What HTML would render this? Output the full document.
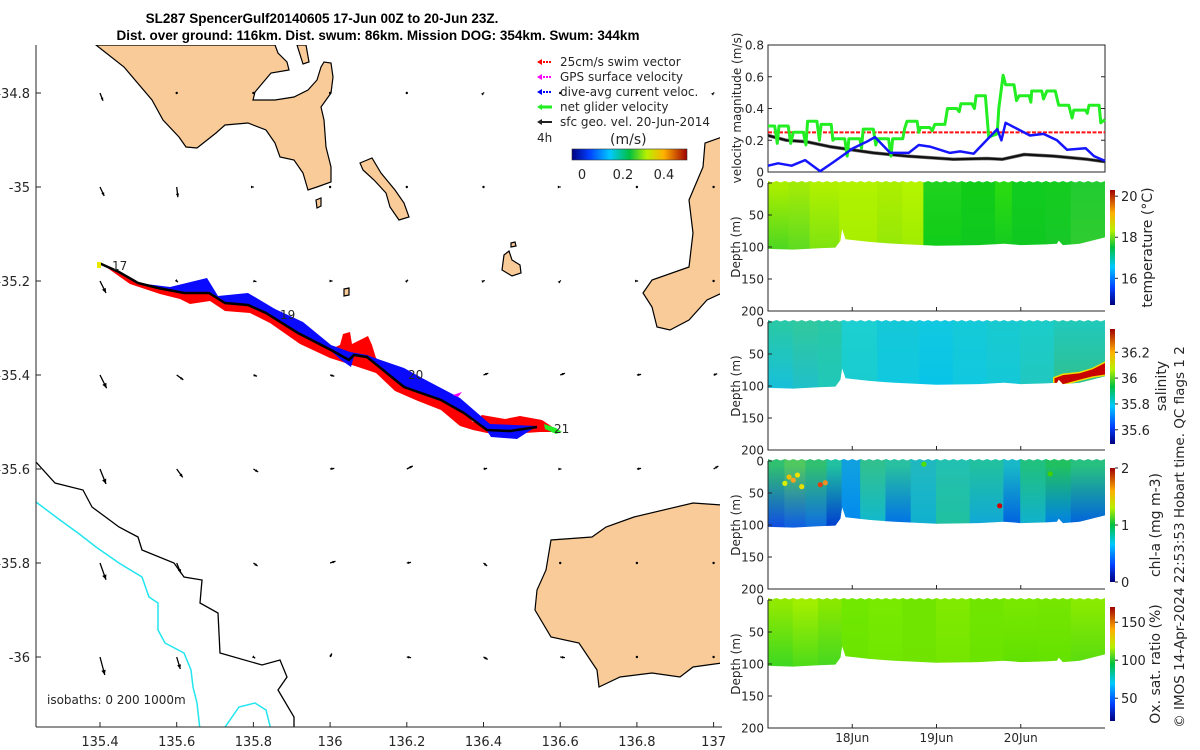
<!DOCTYPE html>
<html><head><meta charset="utf-8"><title>SL287 SpencerGulf glider plot</title>
<style>
html,body{margin:0;padding:0;background:#fff;}
svg{display:block;font-family:"DejaVu Sans","Liberation Sans",sans-serif;}
.t{font-size:12px;fill:#262626;}
</style></head>
<body>
<svg id="fig" width="1200" height="750" viewBox="0 0 1200 750" xmlns="http://www.w3.org/2000/svg">
<defs>
  <linearGradient id="jetV" x1="0" y1="1" x2="0" y2="0">
    <stop offset="0" stop-color="#00007f"/><stop offset="0.15" stop-color="#0040ff"/>
    <stop offset="0.33" stop-color="#00c8ff"/><stop offset="0.5" stop-color="#00c040"/>
    <stop offset="0.65" stop-color="#b8f000"/><stop offset="0.8" stop-color="#ffb000"/>
    <stop offset="1" stop-color="#a00000"/>
  </linearGradient>
  <linearGradient id="jetH" x1="0" y1="0" x2="1" y2="0">
    <stop offset="0" stop-color="#00007f"/><stop offset="0.15" stop-color="#0040ff"/>
    <stop offset="0.33" stop-color="#00c8ff"/><stop offset="0.5" stop-color="#00c040"/>
    <stop offset="0.65" stop-color="#b8f000"/><stop offset="0.8" stop-color="#ffb000"/>
    <stop offset="1" stop-color="#a00000"/>
  </linearGradient>
  <clipPath id="mapclip"><rect x="36" y="45" width="684" height="682"/></clipPath>
</defs>

<text x="322" y="23" text-anchor="middle" style="font-family:'Liberation Sans',sans-serif" font-weight="bold" font-size="13.5">SL287 SpencerGulf20140605 17-Jun 00Z to 20-Jun 23Z.</text>
<text x="378" y="40" text-anchor="middle" style="font-family:'Liberation Sans',sans-serif" font-weight="bold" font-size="13.5">Dist. over ground: 116km. Dist. swum: 86km. Mission DOG: 354km. Swum: 344km</text>

<g id="map" clip-path="url(#mapclip)">
  <g fill="#f9cb98" stroke="#000" stroke-width="1.2">
    <polygon points="96,45 124,67 152,100 163,120 179,137 186,147 197,148 216,133 225,125 248,123 266,130 275,143 280,157 294,160 303,173 308,190 317,187 331,182 331,167 326,147 324,120 321,107 331,93 333,77 331,63 324,62 321,67 317,80 308,90 294,97 275,100 253,100 255,92 271,73 289,70 287,62 278,53 275,45"/>
    <polygon points="297,45 306,45 309,62 303,64"/>
    <polygon points="360,163 372,158 381,173 395,190 404,203 409,217 399,220 390,207 386,193 374,180 363,170"/>
    <polygon points="722,137 705,143 703,167 689,200 693,233 689,267 652,280 643,293 652,307 657,327 670,330 689,320 707,300 722,293"/>
    <polygon points="722,505 693,503 634,517 606,527 592,537 551,540 546,570 537,590 535,610 551,637 579,643 597,670 599,687 620,677 652,673 680,677 693,667 722,663"/>
    <polygon points="504,255 509,251 512,260 520,265 521,273 512,276 502,270"/>
    <polygon points="344,289 349,288 349,295 344,296"/>
    <polygon points="316,200 321,198 321,206 317,208"/>
    <polygon points="511,243 515,242 516,246 511,247"/>
  </g>
  <polyline fill="none" stroke="#000" stroke-width="1.3" points="36,462 55,483 83,490 92,507 119,527 138,537 142,550 174,563 184,577 202,580 200,603 218,613 220,653 262,665 280,660 287,677 278,690 294,717 294,730"/>
  <polyline fill="none" stroke="#22e5ee" stroke-width="1.5" points="36,502 60,520 78,533 96,547 119,563 142,577 149,597 158,603 158,630 165,643 184,653 191,670 193,687 197,703 200,730"/>
  <polyline fill="none" stroke="#22e5ee" stroke-width="1.5" points="223,730 239,707 255,703 266,710 271,730"/>
  <g id="vectors"></g>
  <polygon fill="#ff0000" points="99,262 119,271 138,282 158,287 184,292 209,292 225,302 248,304 266,312 298,332 331,349 340,345 343,334 350,332 352,344 362,339 368,336 372,345 376,358 395,372 418,386 441,398 464,412 473,422 482,415 505,419 520,416 542,420 560,432 540,432 510,434 487,433 473,430 460,426 441,410 418,401 395,391 376,373 355,366 330,358 300,344 270,323 250,313 225,311 210,301 190,304 180,299 160,294 130,284"/>
  <polygon fill="#0a0aff" points="99,262 138,283 170,287 207,278 218,296 248,293 275,309 303,322 331,345 350,352 367,355 372,357 404,368 422,378 460,398 490,424 537,426 517,439 491,437 487,431 464,414 441,401 404,388 367,358 354,356 351,367 341,360 331,351 298,334 266,314 248,306 225,304 209,294 184,294 158,289 138,284 119,273"/>
  <polyline fill="none" stroke="#000" stroke-width="2.5" points="99,263 119,272 138,283 158,288 184,293 209,293 225,303 248,305 266,313 298,333 331,350 349,360 354,355 367,357 404,387 441,400 464,413 487,430 510,431 537,427"/>
  <polygon fill="#22ee22" points="544,424 556,428 562,432 556,434 545,429"/>
  <polygon fill="#ff00ff" points="453,395 462,392 458,397"/>
  <polygon fill="#e8e800" points="97,262 101,262 101,268 97,268"/>
  <g class="t" font-size="12" fill="#111">
    <text x="112" y="270">17</text>
    <text x="280" y="319">19</text>
    <text x="408" y="379">20</text>
    <text x="554" y="433">21</text>
  </g>
</g>
<line x1="36" y1="45" x2="36" y2="727" stroke="#262626" stroke-width="1"/>
<line x1="36" y1="727" x2="722" y2="727" stroke="#262626" stroke-width="1"/>
<g id="mapticks"></g>
<text x="47" y="704" class="t" font-size="12.5">isobaths: 0   200  1000m</text>

<g class="t" font-size="12" fill="#111">
  <g><line x1="540" y1="62" x2="552" y2="62" stroke="#ff0000" stroke-width="2" stroke-dasharray="2 1"/><polygon points="537,62 542,59 542,65" fill="#ff0000"/><text x="560" y="66">25cm/s swim vector</text></g>
  <g><line x1="540" y1="77" x2="552" y2="77" stroke="#ff00ff" stroke-width="2" stroke-dasharray="2 1"/><polygon points="537,77 542,74 542,80" fill="#ff00ff"/><text x="560" y="81">GPS surface velocity</text></g>
  <g><line x1="540" y1="92" x2="552" y2="92" stroke="#0000ff" stroke-width="2" stroke-dasharray="2 1"/><polygon points="537,92 542,89 542,95" fill="#0000ff"/><text x="560" y="96">dive-avg current veloc.</text></g>
  <g><line x1="540" y1="107" x2="552" y2="107" stroke="#22ee22" stroke-width="3"/><polygon points="537,107 542,104 542,110" fill="#22ee22"/><text x="560" y="111">net glider velocity</text></g>
  <g><line x1="540" y1="122" x2="552" y2="122" stroke="#222" stroke-width="2"/><polygon points="537,122 542,119 542,125" fill="#222"/><text x="560" y="126">sfc geo. vel. 20-Jun-2014</text></g>
  <text x="537" y="142">4h</text>
  <text x="610" y="144" font-size="14">(m/s)</text>
  <rect x="572" y="149" width="115" height="11" fill="url(#jetH)" stroke="#333" stroke-width="0.6"/>
  <text x="582" y="179" text-anchor="middle" font-size="13">0</text>
  <text x="623" y="179" text-anchor="middle" font-size="13">0.2</text>
  <text x="664" y="179" text-anchor="middle" font-size="13">0.4</text>
</g>

<g id="velchart"></g>
<g id="sections"></g>

<text transform="translate(1184,537) rotate(-90)" text-anchor="middle" font-size="13.5" fill="#262626">© IMOS 14-Apr-2024 22:53:53 Hobart time. QC flags 1  2</text>
</svg>

<script>
const NS='http://www.w3.org/2000/svg';
function mk(tag,attrs,parent){const e=document.createElementNS(NS,tag);for(const k in attrs)e.setAttribute(k,attrs[k]);parent.appendChild(e);return e;}

/* ---------- velocity chart data ---------- */
const greenDays=[0,.08,.11,.13,.24,.27,.30,.42,.45,.47,.58,.61,.63,.75,.77,.79,.91,.94,.96,1.09,1.11,1.13,1.25,1.28,1.30,1.43,1.46,1.48,1.60,1.62,1.65,1.77,1.79,1.81,1.92,1.95,1.98,2.10,2.13,2.24,2.27,2.29,2.42,2.45,2.47,2.58,2.62,2.72,2.74,2.79,2.82,2.92,2.95,2.98,3.10,3.12,3.13,3.25,3.27,3.31,3.41,3.45,3.57,3.61,3.63,3.77,3.79,3.81,3.93,3.95,4.0];
const greenVals=[.29,.29,.18,.29,.29,.18,.25,.25,.17,.32,.32,.20,.30,.30,.20,.21,.21,.10,.21,.21,.15,.27,.27,.17,.21,.21,.10,.21,.21,.27,.32,.32,.25,.28,.28,.26,.30,.30,.40,.40,.38,.43,.43,.40,.48,.48,.22,.24,.40,.61,.55,.55,.45,.48,.48,.44,.51,.51,.46,.51,.51,.42,.42,.34,.39,.39,.37,.42,.42,.31,.33];
const blueDays=[0,.12,.28,.44,.62,.77,1.01,1.17,1.27,1.45,1.67,1.79,1.92,2.16,2.28,2.44,2.72,2.77,2.82,3.11,3.27,3.43,3.55,3.77,3.87,4.0];
const blueVals=[.04,.055,.04,.075,.005,.06,.15,.19,.22,.12,.12,.17,.16,.12,.13,.115,.27,.20,.31,.23,.24,.20,.14,.15,.10,.07];
const blackDays=[0,.22,.46,.73,1.25,1.65,2.2,2.6,2.78,3.04,3.39,3.79,4.0];
const blackVals=[.23,.20,.19,.16,.12,.10,.08,.085,.08,.11,.10,.08,.065];
const swimSpeed=0.25;
const velTicks=[0,0.2,0.4,0.6,0.8];
const dayTicks=[1,2,3];
const dayTickLabels=['18Jun','19Jun','20Jun'];

const X0=768,X1=1105,DAYS=4;
function xDay(d){return X0+d*(X1-X0)/DAYS;}
const VT=45,VB=172;
function yVel(v){return VB-v*(VB-VT)/0.8;}

(function(){
  const g=document.getElementById('velchart');
  const frame=mk('rect',{x:X0,y:VT,width:X1-X0,height:VB-VT,fill:'none',stroke:'#262626','stroke-width':1},g);
  
  
  velTicks.forEach(v=>{
    const y=yVel(v);
    const l=mk('line',{x1:X0,y1:y,x2:X0+4,y2:y,stroke:'#262626'},g);
    
    
    const r=mk('line',{x1:X1-4,y1:y,x2:X1,y2:y,stroke:'#262626'},g);
    
    
    const t=mk('text',{x:X0-4,y:y+4.5,'text-anchor':'end','font-size':12,fill:'#262626'},g);
    t.textContent=String(v);
    
    
  });
  const yl=mk('text',{transform:'translate(741,108) rotate(-90)','text-anchor':'middle','font-size':12,fill:'#262626'},g);
  yl.textContent='velocity magnitude (m/s)';
  
  
  const sw=mk('line',{x1:X0,y1:yVel(swimSpeed),x2:X1,y2:yVel(swimSpeed),stroke:'#ff1010','stroke-width':2,'stroke-dasharray':'4 1.5'},g);
  
  
  function series(days,vals,color,w,name){
    const pts=days.map((d,i)=>xDay(d).toFixed(1)+','+yVel(vals[i]).toFixed(1)).join(' ');
    const p=mk('polyline',{points:pts,fill:'none',stroke:color,'stroke-width':w,'stroke-linejoin':'round'},g);
    
    
  }
  series(blackDays,blackVals,'#777',3.5,'sfc-geo-line-halo');
  series(blackDays,blackVals,'#111',2.2,'sfc-geo-velocity-line');
  series(greenDays,greenVals,'#22ee22',3,'net-glider-velocity-line');
  series(blueDays,blueVals,'#1515ff',2.5,'dive-avg-current-line');
})();

/* ---------- section panels ---------- */
const profDays=[0,0.3,0.6,0.8,0.86,0.88,0.92,1.2,1.5,2.0,2.5,2.8,3.0,3.3,3.43,3.45,3.5,3.7,4.0];
const profDepth=[103,104,102,101,90,72,88,92,95,98,97,95,97,96,95,90,97,95,85];
const depthTicks=[0,50,100,150,200];

const tempSegDays=[0,0.25,0.5,0.85,1.3,1.6,1.85,2.3,2.7,2.9,3.3,3.6,4.0];
const tempTop=['#a8ee00','#a0ea08','#aef000','#b0f200','#aaee00','#b4f400','#1ed21e','#10cc18','#2ada10','#10cc20','#14cc20','#22cc30'];
const tempBot=['#50d820','#60dc20','#80e410','#a8ee00','#96e808','#a0ec00','#10cc18','#10c820','#14cc20','#10c820','#18c828','#30cc30'];

const salSegDays=[0,0.3,0.6,0.88,1.3,1.8,2.2,2.6,3.0,3.4,4.0];
const salTop=['#28c8a8','#30c8a0','#28c8a8','#1ccfd0','#14c8d8','#10c8e0','#14cad8','#18cad0','#1cccc8','#22c8b8'];
const salBot=['#18c0d8','#20c0c8','#20c8b8','#18ccd0','#10c8e0','#08c4e8','#10c8e0','#14c8d8','#20c8c0','#30c090'];

const chlSegDays=[0,0.2,0.45,0.7,0.88,1.1,1.4,1.7,2.0,2.4,2.8,3.0,3.3,3.6,4.0];
const chlTop=['#30c070','#50c860','#30c070','#20c0a0','#10a0e0','#30c090','#28c0a0','#20b8c0','#22c0b0','#20c0a0','#18b8c8','#20c080','#20c060','#28c080'];
const chlBot=['#1050e0','#1060e0','#1070e0','#0040d0','#0088f0','#10b8d0','#0070e8','#10b0d0','#20c0a0','#10a8d8','#0060e0','#10b0d0','#0080e8','#0060e0'];

const oxSegDays=[0,0.3,0.6,0.88,1.2,1.6,2.0,2.4,2.8,3.2,3.6,4.0];
const oxTop=['#90ea00','#a0ee00','#88e800','#70e800','#78ea00','#70e600','#80ea00','#70e600','#78e800','#74e600','#88ea00'];
const oxBot=['#40d820','#50dc18','#48d820','#6ae400','#70e600','#70e400','#74e600','#6ae400','#60e000','#64e200','#58dc10'];

const chlSpots=[[0.25,25,'#f0c000'],[0.3,30,'#ffa020'],[0.35,22,'#f0e000'],[0.2,35,'#d8f000'],[0.4,40,'#e8e000'],[0.62,37,'#e04010'],[0.68,34,'#f09020'],[2.75,70,'#d00000'],[3.35,20,'#40d000'],[1.85,5,'#50e000']];

const salBlobDays=[3.4,3.5,3.7,3.85,4.0,4.0,3.85,3.7,3.5,3.4];
const salBlobDepth=[88,83,80,74,64,82,85,90,97,98];

const panels=[
 {name:'temperature',top:183,segs:tempSegDays,ct:tempTop,cb:tempBot,cbTop:190,cbBot:305,label:'temperature (°C)',lx:1152,
  cbTicks:[16,18,20],cbMin:14.7,cbMax:20.3},
 {name:'salinity',top:322,segs:salSegDays,ct:salTop,cb:salBot,cbTop:329,cbBot:444,label:'salinity',lx:1166,
  cbTicks:[35.6,35.8,36,36.2],cbMin:35.49,cbMax:36.38},
 {name:'chlorophyll',top:461,segs:chlSegDays,ct:chlTop,cb:chlBot,cbTop:468,cbBot:582,label:'chl-a (mg m-3)',lx:1160,
  cbTicks:[0,1,2],cbMin:0,cbMax:2},
 {name:'oxygen-saturation',top:600,segs:oxSegDays,ct:oxTop,cb:oxBot,cbTop:607,cbBot:721,label:'Ox. sat. ratio (%)',lx:1160,
  cbTicks:[50,100,150],cbMin:20,cbMax:170}
];

(function(){
  const G=document.getElementById('sections');
  const defs=document.querySelector('defs');
  panels.forEach((p,pi)=>{
    const g=mk('g',{},G);
    
    
    const yD=d=>p.top+d*128/200;
    const cp=mk('clipPath',{id:'clip'+pi},defs);
    const pts=[];
    for(let d=0;d<=4.001;d+=0.05){pts.push(xDay(d).toFixed(1)+','+(p.top-2+(Math.round(d*20)%2?1.5:0)));}
    for(let i=profDays.length-1;i>=0;i--)pts.push(xDay(profDays[i]).toFixed(1)+','+yD(profDepth[i]).toFixed(1));
    mk('polygon',{points:pts.join(' ')},cp);
    const fg=mk('g',{'clip-path':'url(#clip'+pi+')'},g);
    for(let i=0;i<p.segs.length-1;i++){
      const gid='gr'+pi+'_'+i;
      const lg=mk('linearGradient',{id:gid,x1:0,y1:0,x2:0,y2:1},defs);
      mk('stop',{offset:0.1,'stop-color':p.ct[i]},lg);
      mk('stop',{offset:0.9,'stop-color':p.cb[i]},lg);
      const r=mk('rect',{x:xDay(p.segs[i])-0.5,y:p.top-3,width:xDay(p.segs[i+1])-xDay(p.segs[i])+1,height:75,fill:'url(#'+gid+')'},fg);
      
      
    }
    if(p.name==='salinity'){
      const bp=salBlobDays.map((d,i)=>xDay(d).toFixed(1)+','+yD(salBlobDepth[i]).toFixed(1)).join(' ');
      const b1=mk('polygon',{points:bp,fill:'#f0e000',stroke:'#f0e000','stroke-width':3},fg);
      
      
      const b2=mk('polygon',{points:bp,fill:'#c80000'},fg);
      
      
    }
    if(p.name==='chlorophyll'){
      chlSpots.forEach(s=>{
        const c=mk('circle',{cx:xDay(s[0]),cy:yD(s[1]),r:2.6,fill:s[2]},fg);
        
        
      });
    }
    const ax=mk('path',{d:'M'+X0+','+p.top+' V'+(p.top+128)+' H'+X1,fill:'none',stroke:'#262626'},g);
    
    
    depthTicks.forEach(dt=>{
      const y=yD(dt);
      const l=mk('line',{x1:X0,y1:y,x2:X0+4,y2:y,stroke:'#262626'},g);
      
      
      const t=mk('text',{x:X0-4,y:y+4.5,'text-anchor':'end','font-size':12,fill:'#262626'},g);
      t.textContent=String(dt);
      
      
    });
    dayTicks.forEach(d=>{
      const l=mk('line',{x1:xDay(d),y1:p.top+128,x2:xDay(d),y2:p.top+124,stroke:'#262626'},g);
      
      
    });
    const yl=mk('text',{transform:'translate(740,'+(p.top+64)+') rotate(-90)','text-anchor':'middle','font-size':12,fill:'#262626'},g);
    yl.textContent='Depth (m)';
    
    
    const cb=mk('rect',{x:1110,y:p.cbTop,width:5,height:p.cbBot-p.cbTop,fill:'url(#jetV)'},g);
    
    
    p.cbTicks.forEach(v=>{
      const y=p.cbBot-(v-p.cbMin)/(p.cbMax-p.cbMin)*(p.cbBot-p.cbTop);
      const l=mk('line',{x1:1115,y1:y,x2:1118,y2:y,stroke:'#262626'},g);
      
      
      const t=mk('text',{x:1121,y:y+5,'font-size':13,fill:'#262626'},g);
      t.textContent=String(v);
      
      
    });
    const cl=mk('text',{transform:'translate('+p.lx+','+(p.name==='salinity'?386:(p.cbTop+p.cbBot)/2)+') rotate(-90)','text-anchor':'middle','font-size':14,fill:'#262626'},g);
    cl.textContent=p.label;
    
    
  });
  dayTicks.forEach((d,i)=>{
    const t=mk('text',{x:xDay(d),y:742,'text-anchor':'middle','font-size':12,fill:'#262626'},G);
    t.textContent=dayTickLabels[i];
    
    
  });
})();

/* ---------- map ticks & vectors ---------- */
const lonTicks=[135.4,135.6,135.8,136,136.2,136.4,136.6,136.8,137];
const latTicks=[-34.8,-35,-35.2,-35.4,-35.6,-35.8,-36];
function xLon(l){return 100+(l-135.4)*383.5;}
function yLat(l){return 93+(-34.8-l)*470;}
(function(){
  const g=document.getElementById('mapticks');
  lonTicks.forEach(l=>{
    const x=xLon(l);
    const k=mk('line',{x1:x,y1:727,x2:x,y2:722,stroke:'#262626'},g);
    
    
    const t=mk('text',{x:x,y:746,'text-anchor':'middle','font-size':13,fill:'#262626'},g);
    t.textContent=String(l);
    
    
  });
  latTicks.forEach(l=>{
    const y=yLat(l);
    const k=mk('line',{x1:36,y1:y,x2:41,y2:y,stroke:'#262626'},g);
    
    
    const t=mk('text',{x:30,y:y+5,'text-anchor':'end','font-size':13,fill:'#262626'},g);
    t.textContent=String(l);
    
    
  });
})();

const vecLons=[135.4,135.6,135.8,136.0,136.2,136.4,136.6,136.8,137.0];
const vecLats=[-34.8,-35.0,-35.2,-35.4,-35.6,-35.8,-36.0];
const vecU=[
 [0.05,0,0,0,0,0.01,0,0,0.01],
 [0.07,0.02,0.01,0,0,0,0.01,0,0],
 [0.10,0.02,0.05,0.04,0.02,0.02,0.01,0.02,0],
 [0.11,0.11,0.06,0.07,0.06,0.08,0.08,0.07,0.06],
 [0.10,0.10,0.08,0.07,0.10,0.06,0.02,0.07,0.08],
 [0.10,0.07,0.07,0.09,0.07,0.06,0,0,0],
 [0.08,0.06,0.03,0.03,0.07,0.07,0.08,0,0]];
const vecV=[
 [-0.13,0,0,0,0,0.01,0,0,0.01],
 [-0.15,-0.17,0,0,0,0,0,0,0],
 [-0.20,-0.02,-0.01,0,0.02,0.01,0.01,0,0],
 [-0.22,-0.08,-0.02,-0.02,0.02,0.03,0.03,0.01,0.02],
 [-0.25,-0.14,-0.05,0.01,0.05,0.01,0,0.01,0.05],
 [-0.28,-0.17,-0.05,0.03,0.01,-0.05,0,0,0],
 [-0.30,-0.20,-0.02,0.06,-0.01,-0.04,-0.01,0,0]];
(function(){
  const g=document.getElementById('vectors');
  const S=60;
  vecLats.forEach((la,r)=>vecLons.forEach((lo,c)=>{
    const u=vecU[r][c],v=vecV[r][c];
    const x=xLon(lo),y=yLat(la);
    const dx=u*S,dy=-v*S,len=Math.hypot(dx,dy);
    if(len<0.3){
      const d=mk('circle',{cx:x,cy:y,r:1.2,fill:'#000'},g);
      
      
      return;
    }
    const l=mk('line',{x1:x,y1:y,x2:x+dx,y2:y+dy,stroke:'#000','stroke-width':1.3},g);
    
    
    const ux=dx/len,uy=dy/len,h=Math.min(5,Math.max(3,len*0.35));
    const ex=x+dx,ey=y+dy;
    const pts=[ex+','+ey,(ex-ux*h-uy*h*0.45)+','+(ey-uy*h+ux*h*0.45),(ex-ux*h+uy*h*0.45)+','+(ey-uy*h-ux*h*0.45)].join(' ');
    const a=mk('polygon',{points:pts,fill:'#000'},g);
    
    
  }));
})();
</script>
</body></html>
